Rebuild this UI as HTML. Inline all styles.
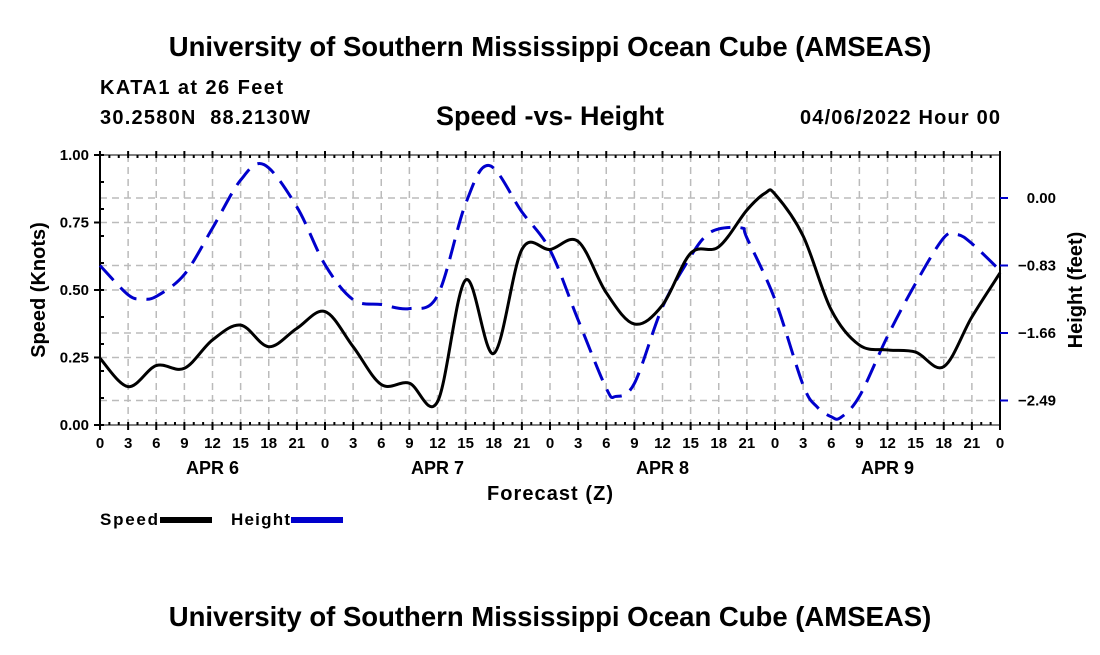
<!DOCTYPE html>
<html><head><meta charset="utf-8"><style>
body{margin:0;background:#fff;}
svg text{font-family:"Liberation Sans",sans-serif;font-weight:bold;fill:#000;}
</style></head><body>
<svg width="1100" height="650" xmlns="http://www.w3.org/2000/svg">
<text x="550" y="56" font-size="27.5" text-anchor="middle">University of Southern Mississippi Ocean Cube (AMSEAS)</text>
<text x="100" y="94" font-size="20" textLength="183">KATA1 at 26 Feet</text>
<text x="100" y="124" font-size="20" textLength="210" xml:space="preserve">30.2580N  88.2130W</text>
<text x="550" y="125" font-size="27" text-anchor="middle">Speed -vs- Height</text>
<text x="1000" y="124" font-size="20" text-anchor="end" textLength="200">04/06/2022 Hour 00</text>
<g id="grid"></g>
<g id="axes"></g>
<g id="series"></g>
<text x="550" y="500" font-size="20" text-anchor="middle" textLength="126">Forecast (Z)</text>
<text transform="translate(45,290) rotate(-90)" font-size="20" text-anchor="middle">Speed (Knots)</text>
<text transform="translate(1082,290) rotate(-90)" font-size="20" text-anchor="middle">Height (feet)</text>
<g>
<text x="100" y="525" font-size="17" textLength="58">Speed</text>
<rect x="160" y="517" width="52" height="6" fill="#000"/>
<text x="231" y="525" font-size="17" textLength="59">Height</text>
<rect x="291" y="517" width="52" height="6" fill="#0000cc"/>
</g>
<text x="550" y="626" font-size="27.5" text-anchor="middle">University of Southern Mississippi Ocean Cube (AMSEAS)</text>
</svg>
<script>
const speedHours=[0,3,6,9,12,15,18,21,24,27,30,33,36,39,42,45,48,51,54,57,60,63,66,69,71,72,75,78,81,84,87,90,93,96];
const speedVals=[0.247,0.142,0.22,0.21,0.315,0.37,0.29,0.358,0.42,0.29,0.15,0.155,0.086,0.537,0.265,0.65,0.65,0.68,0.49,0.374,0.444,0.636,0.66,0.796,0.86,0.855,0.70,0.426,0.296,0.278,0.27,0.216,0.40,0.563];
const heightHours=[0,3,4.5,6,9,12,15,17.5,21,24,27,30,33,36,39,41.5,45,48,51,54,55,57,60,63,64.5,66,68.5,69,72,75,76.5,78,79,81,84,87,90,91.5,93,96];
const heightVals=[-0.83,-1.19,-1.24,-1.21,-0.94,-0.37,0.22,0.41,-0.11,-0.82,-1.25,-1.31,-1.36,-1.2,-0.07,0.40,-0.17,-0.64,-1.5,-2.34,-2.44,-2.28,-1.34,-0.72,-0.48,-0.38,-0.37,-0.49,-1.25,-2.3,-2.57,-2.69,-2.7,-2.44,-1.70,-1.05,-0.49,-0.45,-0.56,-0.89];
const xTickLabels=["0","3","6","9","12","15","18","21"];
const dayLabels=["APR 6","APR 7","APR 8","APR 9"];
const speedTicks=[0,0.25,0.5,0.75,1.0];
const heightTicks=[0,-0.83,-1.66,-2.49];

const L=100,R=1000,T=155,B=425;
const X=h=>L+h*(R-L)/96;
const YS=v=>B-v*(B-T);
const YH=h=>198-h*(67.5/0.83);
const NS="http://www.w3.org/2000/svg";
function mk(tag,parent,attrs){const e=document.createElementNS(NS,tag);for(const k in attrs)e.setAttribute(k,attrs[k]);parent.appendChild(e);return e;}
const grid=document.getElementById('grid'),axes=document.getElementById('axes'),ser=document.getElementById('series');

for(let i=1;i<32;i++){
  const l=mk('line',grid,{x1:X(i*3),x2:X(i*3),y1:T,y2:B,stroke:'#bbb','stroke-width':1.5,'stroke-dasharray':'7,5'});
  
  
}
const hy=speedTicks.slice(1,4).map(YS).concat(heightTicks.map(YH));
hy.forEach(y=>{
  const l=mk('line',grid,{x1:L,x2:R,y1:y,y2:y,stroke:'#bbb','stroke-width':1.5,'stroke-dasharray':'7,5'});
  
  
});
mk('line',axes,{x1:L,x2:L,y1:T,y2:B,stroke:'#000','stroke-width':2});
mk('line',axes,{x1:R,x2:R,y1:T,y2:B,stroke:'#000','stroke-width':2});
mk('line',axes,{x1:L,x2:R,y1:T,y2:T,stroke:'#000','stroke-width':1});
mk('line',axes,{x1:L,x2:R,y1:B,y2:B,stroke:'#000','stroke-width':1});
for(let h=0;h<=96;h++){
  mk('line',axes,{x1:X(h),x2:X(h),y1:T-(h%3==0?4:0),y2:T+3,stroke:'#000','stroke-width':2});
  mk('line',axes,{x1:X(h),x2:X(h),y1:B-3,y2:B+(h%3==0?5:0),stroke:'#000','stroke-width':2});
}
for(let i=0;i<=32;i++){
  const t=mk('text',axes,{x:X(i*3),y:448,'font-size':15,'text-anchor':'middle'});
  t.textContent=xTickLabels[i%8];
  
  
}
dayLabels.forEach((d,i)=>{
  const t=mk('text',axes,{x:X(i*24+12),y:474,'font-size':18,'text-anchor':'middle'});
  t.textContent=d;
  
  
});
for(let v=0;v<=10;v++){mk('line',axes,{x1:L,x2:L+4,y1:YS(v/10),y2:YS(v/10),stroke:'#000','stroke-width':2});}
speedTicks.forEach(v=>{
  mk('line',axes,{x1:L-6,x2:L,y1:YS(v),y2:YS(v),stroke:'#000','stroke-width':2});
  const t=mk('text',axes,{x:L-11,y:YS(v)+5,'font-size':15,'text-anchor':'end'});
  t.textContent=v.toFixed(2);
  
  
});
heightTicks.forEach(v=>{
  mk('line',axes,{x1:R,x2:R+8,y1:YH(v),y2:YH(v),stroke:'#0000cc','stroke-width':2});
  const t=mk('text',axes,{x:1056,y:YH(v)+5,'font-size':15,'text-anchor':'end'});
  t.textContent=v==0?'0.00':'\u2212'+Math.abs(v).toFixed(2);
  
  
});
function path(xs,ys){
  const p=xs.map((x,i)=>[x,ys[i]]);let d='M'+p[0][0]+','+p[0][1];
  for(let i=0;i<p.length-1;i++){
    const p0=p[Math.max(0,i-1)],p1=p[i],p2=p[i+1],p3=p[Math.min(p.length-1,i+2)];
    const c1x=p1[0]+(p2[0]-p0[0])/6,c1y=p1[1]+(p2[1]-p0[1])/6,c2x=p2[0]-(p3[0]-p1[0])/6,c2y=p2[1]-(p3[1]-p1[1])/6;
    d+=` C${c1x},${c1y} ${c2x},${c2y} ${p2[0]},${p2[1]}`;
  }return d;
}
const hp=mk('path',ser,{d:path(heightHours.map(X),heightVals.map(YH)),fill:'none',stroke:'#0000cc','stroke-width':3,'stroke-dasharray':'20,10'});


const sp=mk('path',ser,{d:path(speedHours.map(X),speedVals.map(YS)),fill:'none',stroke:'#000','stroke-width':3});


</script>
</body></html>
